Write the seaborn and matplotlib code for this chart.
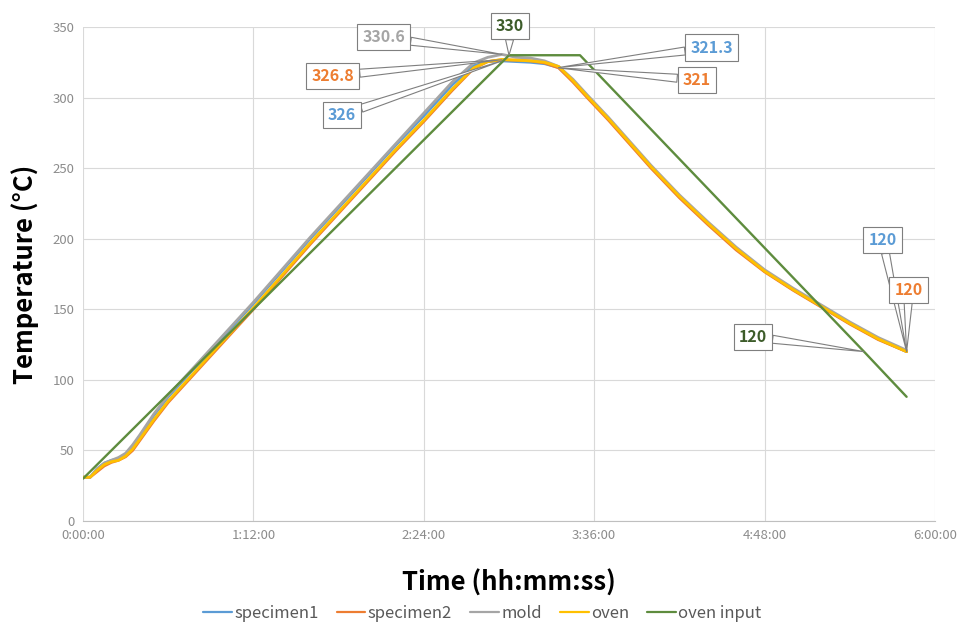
import matplotlib
matplotlib.use("Agg")
import matplotlib.pyplot as plt
import numpy as np
import pandas as pd
import seaborn as sns

# ---- data (time in hours, temperature in °C) ----
hours = [0, 0.05, 0.1, 0.15, 0.2, 0.25, 0.3, 0.35, 0.4, 0.5, 0.6, 0.8, 1.0, 1.2,
         1.4, 1.6, 1.8, 2.0, 2.2, 2.4, 2.6, 2.75, 2.85, 2.95, 3.05, 3.15, 3.25,
         3.35, 3.45, 3.55, 3.7, 3.85, 4.0, 4.2, 4.4, 4.6, 4.8, 5.0, 5.2, 5.4,
         5.6, 5.8]

specimen1 = [31, 31, 37, 41, 43, 44, 47, 53, 60, 75, 88, 110, 132, 154,
             177, 200, 222, 244, 266, 287, 309, 322.5, 325.5, 326, 325.5, 325, 324,
             321.3, 312, 301, 285, 268, 251, 230, 211, 193, 177, 164, 152, 140,
             129, 120]

specimen2 = [31, 31, 35, 39, 41.5, 43, 45.5, 50, 57, 71, 84, 106, 128, 150,
             173, 196, 218, 240, 262, 283, 305, 320.5, 325.5, 326.8, 326.5, 326, 324.5,
             321, 311, 300, 284, 267, 250, 229, 210, 192, 176.5, 163.5, 151.5, 139.5,
             128.5, 120]

mold = [31, 31, 37, 41, 43, 45, 48, 54, 61, 76, 89, 111, 133, 155,
        178, 201, 223, 245, 267, 289, 311, 324.5, 328.5, 330.6, 328.5, 328, 326,
        322, 313, 302, 286, 269, 252, 231, 212, 194, 178, 165, 153, 141,
        130, 121]

oven = [31, 31, 36, 40, 42, 43, 46, 51, 58, 72, 85, 107, 129, 151,
        174, 197, 219, 241, 263, 284, 306, 321, 325.5, 327, 326.5, 326, 325,
        322, 312, 301, 285, 268, 251, 230, 211, 193, 177, 164, 152, 140,
        129, 120]

input_hours = [0, 3.0, 3.5, 5.5, 5.8]
oven_input = [30, 330, 330, 120, 88]

series_names = ["specimen1", "specimen2", "mold", "oven", "oven input"]
series_colors = ["#5B9BD5", "#ED7D31", "#A5A5A5", "#FFC000", "#5E8C3E"]
label_colors = ["#5B9BD5", "#ED7D31", "#A5A5A5", "#FFC000", "#3D5C2A"]

tick_hours = [0, 1.2, 2.4, 3.6, 4.8, 6.0]
tick_labels = ["0:00:00", "1:12:00", "2:24:00", "3:36:00", "4:48:00", "6:00:00"]
temp_ticks = [0, 50, 100, 150, 200, 250, 300, 350]

# callouts: (series, hour, value)
callouts = [
    ("mold", 2.95, 330.6),
    ("specimen2", 2.95, 326.8),
    ("specimen1", 2.95, 326),
    ("oven input", 3.0, 330),
    ("specimen1", 3.35, 321.3),
    ("specimen2", 3.35, 321),
    ("specimen1", 5.8, 120),
    ("specimen2", 5.8, 120),
    ("oven input", 5.5, 120),
]
# box offsets in pixels from the labelled point
callout_offsets = [(-118, 17), (-169, -16), (-160, -54), (1, 29),
                   (153, 20), (138, -12), (-24, 112), (2, 62), (-111, 15)]

# ---- long-form table ----
frames = []
for name, vals in zip(series_names[:4], [specimen1, specimen2, mold, oven]):
    frames.append(pd.DataFrame({"hours": hours, "temp": vals, "series": name}))
frames.append(pd.DataFrame({"hours": input_hours, "temp": oven_input,
                            "series": "oven input"}))
df = pd.concat(frames, ignore_index=True)

# ---- figure ----
sns.set_theme(style="whitegrid")
plt.rcParams["font.family"] = ["Noto Sans CJK KR", "DejaVu Sans"]

fig = plt.figure(figsize=(9.65, 6.3), dpi=100)
ax = fig.add_axes([83 / 965, 1 - 521 / 630, (935 - 83) / 965, (521 - 27) / 630])

palette = dict(zip(series_names, series_colors))
sns.lineplot(data=df, x="hours", y="temp", hue="series", hue_order=series_names,
             palette=palette, estimator=None, sort=False, linewidth=2.0, ax=ax,
             legend=False)
# thinner ramp line for the set-point
for line, name in zip(ax.lines, series_names):
    if name == "oven input":
        line.set_linewidth(1.7)

ax.set_xlim(0, 6.0)
ax.set_ylim(0, 350)
ax.set_xticks(tick_hours)
ax.set_xticklabels(tick_labels)
ax.set_yticks(temp_ticks)
ax.tick_params(axis="both", length=0, labelsize=9.5, labelcolor="#8C8C8C")
ax.tick_params(axis="x", pad=6)
ax.tick_params(axis="y", pad=6)
ax.grid(True, color="#D9D9D9", linewidth=0.8)
ax.set_facecolor("white")
for side in ["top", "right", "left"]:
    ax.spines[side].set_visible(False)
ax.spines["bottom"].set_color("#BFBFBF")
ax.spines["bottom"].set_linewidth(0.8)

ax.set_xlabel("Time (hh:mm:ss)", fontsize=18.5, fontweight="bold", color="black",
              labelpad=20)
ax.set_ylabel("Temperature (°C)", fontsize=18.5, fontweight="bold", color="black",
              labelpad=10)

# callout boxes with wedge pointers
color_of = dict(zip(series_names, label_colors))
for (name, h, v), (dx, dy) in zip(callouts, callout_offsets):
    txt = f"{v:g}"
    ax.annotate(txt, xy=(h, v), xycoords="data",
                xytext=(dx, dy), textcoords="offset pixels",
                ha="center", va="center", fontsize=11.5, fontweight="bold",
                color=color_of[name], annotation_clip=False, zorder=10,
                bbox=dict(boxstyle="square,pad=0.32", fc="white", ec="#7F7F7F",
                          lw=0.8),
                arrowprops=dict(arrowstyle="wedge,tail_width=0.5,shrink_factor=0.5",
                                fc="white", ec="#7F7F7F", lw=0.8,
                                shrinkA=0, shrinkB=0))

# legend below the axis title
handles = [plt.Line2D([], [], color=c, lw=1.6) for c in series_colors]
fig.legend(handles, series_names, loc="center", bbox_to_anchor=(0.5, 1 - 613 / 630),
           ncol=5, frameon=False, fontsize=12, handlelength=1.7, handletextpad=0.15,
           columnspacing=1.1, labelcolor="#595959")

fig.savefig("out.png", dpi=100, facecolor="white")
